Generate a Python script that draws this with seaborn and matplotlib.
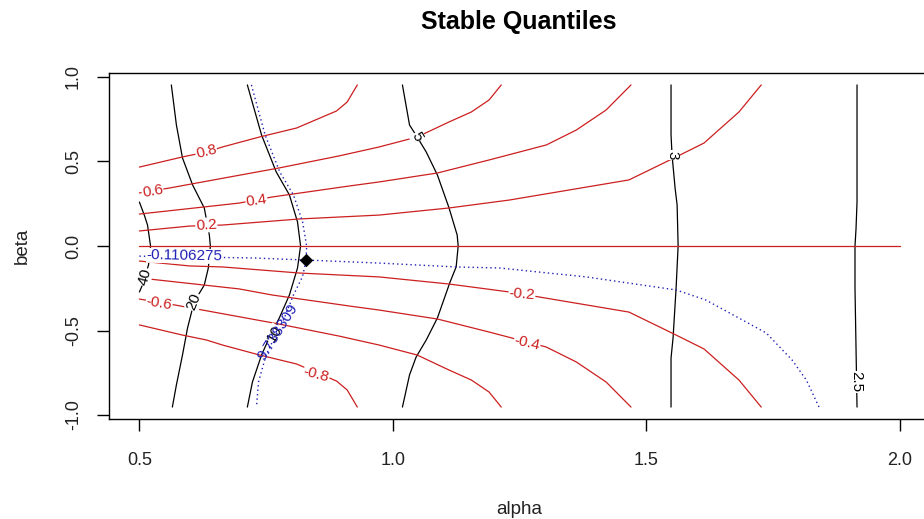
import matplotlib
matplotlib.use("Agg")
import matplotlib.pyplot as plt
import seaborn as sns

# contour paths (alpha, beta)
# nu_alpha contours (black)
alpha_40 = [0.500, 0.510, 0.516, 0.522, 0.518, 0.506, 0.500]
beta_40 = [0.260, 0.180, 0.124, 0.000, -0.112, -0.231, -0.272]

alpha_20 = [0.563, 0.573, 0.585, 0.605, 0.628, 0.638, 0.640, 0.636, 0.628, 0.608, 0.595, 0.585, 0.573, 0.565]
beta_20 = [0.953, 0.716, 0.521, 0.361, 0.225, 0.065, 0.000, -0.130, -0.231, -0.331, -0.485, -0.645, -0.822, -0.953]

alpha_10 = [0.713, 0.741, 0.770, 0.796, 0.812, 0.818, 0.812, 0.796, 0.776, 0.756, 0.741, 0.723, 0.713]
beta_10 = [0.953, 0.657, 0.438, 0.302, 0.142, 0.000, -0.130, -0.290, -0.426, -0.544, -0.645, -0.805, -0.953]

alpha_5 = [1.019, 1.033, 1.048, 1.066, 1.088, 1.111, 1.127, 1.129, 1.125, 1.113, 1.088, 1.066, 1.046, 1.033, 1.019]
beta_5 = [0.953, 0.716, 0.645, 0.556, 0.420, 0.225, 0.065, 0.000, -0.124, -0.213, -0.426, -0.556, -0.657, -0.763, -0.953]

alpha_3 = [1.549, 1.549, 1.551, 1.557, 1.561, 1.563, 1.559, 1.553, 1.549, 1.549]
beta_3 = [0.953, 0.657, 0.538, 0.343, 0.243, 0.000, -0.249, -0.544, -0.663, -0.953]

alpha_25 = [1.916, 1.916, 1.914, 1.912, 1.912, 1.914, 1.916]
beta_25 = [0.953, 0.260, 0.100, 0.000, -0.250, -0.600, -0.953]

# nu_beta contours (red)
alpha_p08 = [0.500, 0.585, 0.632, 0.664, 0.737, 0.810, 0.889, 0.910, 0.930]
beta_p08 = [0.467, 0.527, 0.556, 0.586, 0.645, 0.698, 0.799, 0.852, 0.953]

alpha_p06 = [0.500, 0.559, 0.776, 0.894, 0.973, 1.048, 1.111, 1.155, 1.190, 1.214]
beta_p06 = [0.314, 0.343, 0.462, 0.533, 0.586, 0.645, 0.734, 0.793, 0.864, 0.953]

alpha_p04 = [0.500, 0.697, 0.762, 0.914, 0.973, 1.088, 1.190, 1.303, 1.362, 1.421, 1.470]
beta_p04 = [0.189, 0.254, 0.290, 0.355, 0.379, 0.432, 0.509, 0.598, 0.686, 0.805, 0.953]

alpha_p02 = [0.500, 0.599, 0.664, 0.816, 0.973, 1.111, 1.230, 1.466, 1.555, 1.614, 1.683, 1.727]
beta_p02 = [0.089, 0.118, 0.124, 0.160, 0.183, 0.225, 0.272, 0.391, 0.521, 0.609, 0.793, 0.953]

alpha_0 = [0.500, 2.000]
beta_0 = [0.000, 0.000]

alpha_m02 = [0.500, 0.599, 0.664, 0.816, 0.973, 1.111, 1.230, 1.466, 1.555, 1.614, 1.683, 1.727]
beta_m02 = [-0.089, -0.118, -0.124, -0.160, -0.183, -0.225, -0.272, -0.391, -0.521, -0.609, -0.793, -0.953]

alpha_m04 = [0.500, 0.697, 0.762, 0.914, 0.973, 1.088, 1.190, 1.303, 1.362, 1.421, 1.470]
beta_m04 = [-0.189, -0.254, -0.290, -0.355, -0.379, -0.432, -0.509, -0.598, -0.686, -0.805, -0.953]

alpha_m06 = [0.500, 0.559, 0.776, 0.894, 0.973, 1.048, 1.111, 1.155, 1.190, 1.214]
beta_m06 = [-0.314, -0.343, -0.462, -0.533, -0.586, -0.645, -0.734, -0.793, -0.864, -0.953]

alpha_m08 = [0.500, 0.585, 0.632, 0.664, 0.737, 0.810, 0.889, 0.910, 0.930]
beta_m08 = [-0.467, -0.527, -0.556, -0.586, -0.645, -0.698, -0.799, -0.852, -0.953]

# observed-value contours (blue, dotted)
alpha_obs_a = [0.721, 0.748, 0.777, 0.804, 0.822, 0.830, 0.829, 0.822, 0.804, 0.786, 0.766, 0.750, 0.735, 0.731]
beta_obs_a = [0.953, 0.657, 0.438, 0.302, 0.142, 0.000, -0.083, -0.180, -0.290, -0.426, -0.544, -0.645, -0.805, -0.953]

alpha_obs_b = [0.500, 0.727, 0.829, 0.973, 1.125, 1.210, 1.382, 1.559, 1.618, 1.737, 1.788, 1.816, 1.841]
beta_obs_b = [-0.060, -0.071, -0.083, -0.101, -0.124, -0.130, -0.183, -0.260, -0.320, -0.515, -0.675, -0.793, -0.953]

# fitted point
fit_alpha = [0.829]
fit_beta = [-0.083]

x_ticks = [0.5, 1.0, 1.5, 2.0]
x_tick_labels = ["0.5", "1.0", "1.5", "2.0"]
y_ticks = [-1.0, -0.5, 0.0, 0.5, 1.0]
y_tick_labels = ["-1.0", "-0.5", "0.0", "0.5", "1.0"]

BLACK = "black"
RED = "#cc1f1f"
BLUE = "#1f1fb4"

black_lines = [(alpha_40, beta_40), (alpha_20, beta_20), (alpha_10, beta_10),
               (alpha_5, beta_5), (alpha_3, beta_3), (alpha_25, beta_25)]
red_lines = [(alpha_p08, beta_p08), (alpha_p06, beta_p06), (alpha_p04, beta_p04),
             (alpha_p02, beta_p02), (alpha_0, beta_0), (alpha_m02, beta_m02),
             (alpha_m04, beta_m04), (alpha_m06, beta_m06), (alpha_m08, beta_m08)]
blue_lines = [(alpha_obs_a, beta_obs_a), (alpha_obs_b, beta_obs_b)]

# contour labels: text, alpha, beta, angle, colour
labels = [
    ("40", 0.510, -0.183, 75, BLACK),
    ("20", 0.608, -0.331, 68, BLACK),
    ("10", 0.766, -0.520, 60, BLACK),
    ("5", 1.048, 0.645, -60, BLACK),
    ("3", 1.551, 0.538, -90, BLACK),
    ("2.5", 1.914, -0.805, -90, BLACK),
    ("0.8", 0.632, 0.556, 14, RED),
    ("0.6", 0.526, 0.322, 10, RED),
    ("0.4", 0.731, 0.270, 8, RED),
    ("0.2", 0.632, 0.124, 4, RED),
    ("-0.2", 1.255, -0.282, -5, RED),
    ("-0.4", 1.265, -0.574, -13, RED),
    ("-0.6", 0.539, -0.337, -10, RED),
    ("-0.8", 0.849, -0.763, -15, RED),
    ("-0.1106275", 0.589, -0.059, -1, BLUE),
    ("9.738309", 0.772, -0.509, 58, BLUE),
]

sns.set_theme(style="white")
plt.rcParams["font.family"] = ["Liberation Sans", "DejaVu Sans"]

fig = plt.figure(figsize=(9.24, 5.19), dpi=100)
ax = fig.add_axes([109 / 924, 99.6 / 519, 821 / 924, 346.8 / 519])

for a, b in black_lines:
    sns.lineplot(x=a, y=b, sort=False, estimator=None, color=BLACK, lw=0.9, ax=ax)
for a, b in red_lines:
    sns.lineplot(x=a, y=b, sort=False, estimator=None, color=RED, lw=0.9, ax=ax)
for a, b in blue_lines:
    sns.lineplot(x=a, y=b, sort=False, estimator=None, color=BLUE, lw=1.0,
                 linestyle=(0, (1, 2.2)), ax=ax)

sns.scatterplot(x=fit_alpha, y=fit_beta, marker="D", s=40, color="black",
                edgecolor="black", ax=ax, zorder=6)

for txt, a, b, ang, col in labels:
    box = None if col == BLUE and txt.startswith("9") else dict(facecolor="white", edgecolor="none", pad=0.3)
    ax.text(a, b, txt, color=col, fontsize=11, rotation=ang, rotation_mode="anchor",
            ha="center", va="center", bbox=box, zorder=5 if col != BLUE else 7)

ax.set_xlim(0.44, 2.06)
ax.set_ylim(-1.026, 1.026)
ax.set_xticks(x_ticks)
ax.set_xticklabels(x_tick_labels)
ax.set_yticks(y_ticks)
ax.set_yticklabels(y_tick_labels, rotation=90, va="center")
ax.tick_params(axis="both", direction="out", length=8.6, width=1, color="black",
               labelsize=13, labelcolor="#222222", bottom=True, left=True)
ax.tick_params(axis="x", pad=15)
ax.tick_params(axis="y", pad=11)
for sp in ax.spines.values():
    sp.set_color("black")
    sp.set_linewidth(1)

ax.set_xlabel("alpha", fontsize=13.5, color="#222222", va="center")
ax.xaxis.set_label_coords(0.5, (419.4 - 510) / 346.8)
ax.set_ylabel("beta", fontsize=13.5, color="#222222", va="center")
ax.yaxis.set_label_coords((22 - 109) / 821, 0.5)
fig.suptitle("Stable Quantiles", fontsize=18, fontweight="bold", x=519 / 924, y=1 - 22 / 519,
             va="center", color="black")

plt.savefig("out.png", dpi=100)
